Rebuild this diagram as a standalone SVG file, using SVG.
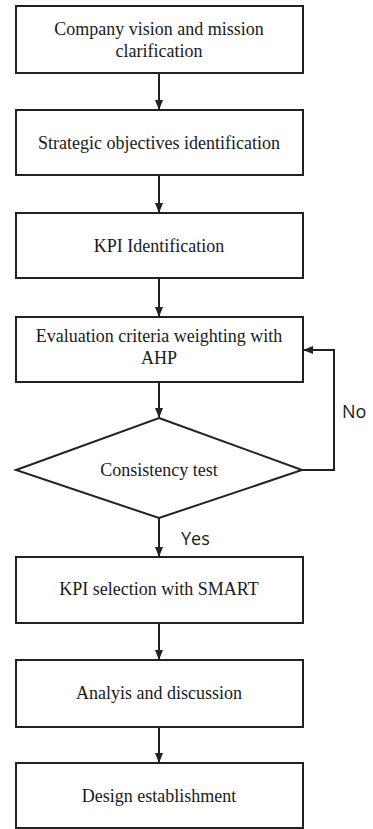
<svg xmlns="http://www.w3.org/2000/svg" width="373" height="829" viewBox="0 0 373 829">
<style>
.box{fill:#fff;stroke:#222;stroke-width:2}
.t{font-family:"Liberation Serif","Times New Roman",serif;font-size:18px;fill:#1a1a1a;text-anchor:middle}
.l{font-family:"Open Sans","Noto Sans",sans-serif;font-size:18px;fill:#1a1a1a}
.c{fill:none;stroke:#222;stroke-width:2}
</style>
<defs>
<marker id="ah" markerWidth="10" markerHeight="10" refX="9" refY="5" orient="auto" markerUnits="userSpaceOnUse">
<path d="M0,1 L10,5 L0,9 Z" fill="#222"/>
</marker>
</defs>
<rect width="373" height="829" fill="#fff"/>
<g id="connectors">
<line class="c" x1="159" y1="73" x2="159" y2="109" marker-end="url(#ah)"/>
<line class="c" x1="159" y1="175" x2="159" y2="212" marker-end="url(#ah)"/>
<line class="c" x1="159" y1="278" x2="159" y2="316" marker-end="url(#ah)"/>
<line class="c" x1="159" y1="382" x2="159" y2="417" marker-end="url(#ah)"/>
<line class="c" x1="159" y1="518" x2="159" y2="556" marker-end="url(#ah)"/>
<line class="c" x1="159" y1="623" x2="159" y2="659" marker-end="url(#ah)"/>
<line class="c" x1="159" y1="727" x2="159" y2="762" marker-end="url(#ah)"/>
<polyline class="c" points="302,470 334,470 334,350 304,350" marker-end="url(#ah)"/>
<text class="l" x="342" y="418">No</text>
<text class="l" x="181" y="545">Yes</text>
</g>
<g id="n1"><rect class="box" x="16" y="6" width="287" height="67"/>
<text class="t" x="159" y="35">Company vision and mission</text>
<text class="t" x="159" y="57">clarification</text></g>
<g id="n2"><rect class="box" x="16" y="110" width="287" height="65"/>
<text class="t" x="159" y="149">Strategic objectives identification</text></g>
<g id="n3"><rect class="box" x="16" y="213" width="287" height="65"/>
<text class="t" x="159" y="252">KPI Identification</text></g>
<g id="n4"><rect class="box" x="16" y="317" width="287" height="65"/>
<text class="t" x="159" y="342">Evaluation criteria weighting with</text>
<text class="t" x="159" y="364">AHP</text></g>
<g id="n5"><polygon class="box" points="159,418 302,470 159,518 16,470"/>
<text class="t" x="159" y="476">Consistency test</text></g>
<g id="n6"><rect class="box" x="16" y="557" width="287" height="66"/>
<text class="t" x="159" y="595">KPI selection with SMART</text></g>
<g id="n7"><rect class="box" x="16" y="660" width="287" height="67"/>
<text class="t" x="159" y="699">Analyis and discussion</text></g>
<g id="n8"><rect class="box" x="16" y="763" width="287" height="65"/>
<text class="t" x="159" y="802">Design establishment</text></g>
</svg>
